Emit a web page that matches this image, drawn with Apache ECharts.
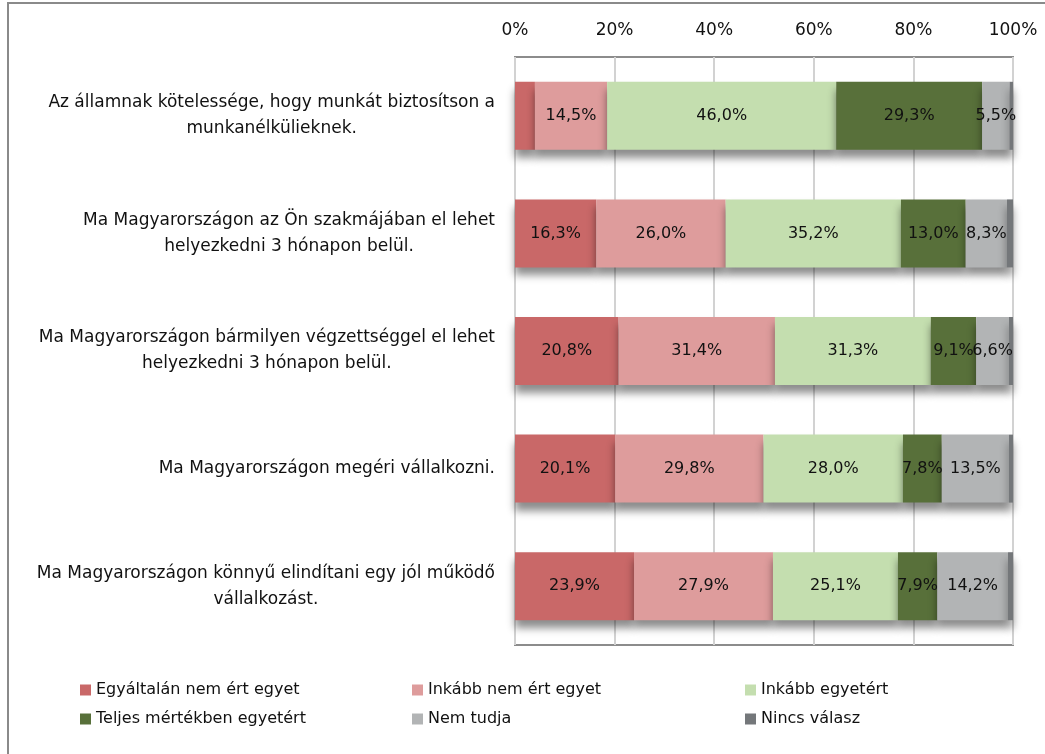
<!DOCTYPE html>
<html>
<head>
<meta charset="utf-8">
<style>
    html, body { margin: 0; padding: 0; background: #fff; }
    #chart { width: 1045px; height: 754px; }
</style>
<script src="https://cdn.jsdelivr.net/npm/echarts@6.0.0/dist/echarts.min.js"></script>
</head>
<body>
<div id="chart"></div>
<script>
// kategóriák (felülről lefelé)
var kerdesek = [
    'Az államnak kötelessége, hogy munkát biztosítson a\nmunkanélkülieknek.',
    'Ma Magyarországon az Ön szakmájában el lehet\nhelyezkedni 3 hónapon belül.',
    'Ma Magyarországon bármilyen végzettséggel el lehet\nhelyezkedni 3 hónapon belül.',
    'Ma Magyarországon megéri vállalkozni.',
    'Ma Magyarországon könnyű elindítani egy jól működő\nvállalkozást.'
];
var xTicks = [0, 20, 40, 60, 80, 100];

var egyaltalanNem = [4.0, 16.3, 20.8, 20.1, 23.9];
var inkabbNem = [14.5, 26.0, 31.4, 29.8, 27.9];
var inkabbIgen = [46.0, 35.2, 31.3, 28.0, 25.1];
var teljesen = [29.3, 13.0, 9.1, 7.8, 7.9];
var nemTudja = [5.5, 8.3, 6.6, 13.5, 14.2];
var nincsValasz = [0.7, 1.2, 0.8, 0.8, 1.0];

var nevek = ['Egyáltalán nem ért egyet', 'Inkább nem ért egyet', 'Inkább egyetért',
    'Teljes mértékben egyetért', 'Nem tudja', 'Nincs válasz'];
var szinek = ['#C96868', '#DE9C9C', '#C4DEAF', '#58703A', '#B2B4B5', '#74777A'];
var adatok = [egyaltalanNem, inkabbNem, inkabbIgen, teljesen, nemTudja, nincsValasz];

var betu = 'DejaVu Sans';

var myChart = echarts.init(document.getElementById('chart'));

var series = adatok.map(function (d, i) {
    return {
        name: nevek[i],
        type: 'bar',
        stack: 'ossz',
        data: d,
        barWidth: 68,
        itemStyle: {
            color: szinek[i],
            shadowColor: 'rgba(0,0,0,0.45)',
            shadowBlur: 8,
            shadowOffsetY: 8
        },
        label: {
            show: i < 5,
            position: 'inside',
            color: '#111',
            fontFamily: betu,
            fontSize: 16,
            formatter: function (p) {
                // a kicsi szeleteknek nincs felirata
                if (p.value < 5) return '';
                return p.value.toFixed(1).replace('.', ',') + '%';
            }
        }
    };
});

function oszlop(x, a, b) {
    return {
        orient: 'vertical',
        left: x,
        top: 682,
        padding: 0,
        itemGap: 13,
        itemWidth: 11,
        itemHeight: 11,
        icon: 'rect',
        textStyle: { fontFamily: betu, fontSize: 16, color: '#111', padding: [0, 0, 0, 0] },
        data: [a, b]
    };
}

var option = {
    backgroundColor: '#fff',
    animation: false,
    graphic: [{
        type: 'rect',
        shape: { x: 8, y: 3, width: 1100, height: 800 },
        style: { fill: 'none', stroke: '#8a8a8a', lineWidth: 2 }
    }],
    grid: {
        left: 515,
        right: 32,
        top: 57,
        bottom: 109,
        show: true,
        borderColor: '#8c8c8c',
        borderWidth: 2
    },
    legend: [
        oszlop(80, nevek[0], nevek[3]),
        oszlop(412, nevek[1], nevek[4]),
        oszlop(745, nevek[2], nevek[5])
    ],
    xAxis: {
        type: 'value',
        position: 'top',
        min: xTicks[0],
        max: xTicks[xTicks.length - 1],
        interval: xTicks[1] - xTicks[0],
        axisLine: { show: false },
        axisTick: { show: false },
        axisLabel: {
            margin: 18,
            fontFamily: betu,
            fontSize: 17,
            color: '#111',
            formatter: '{value}%'
        },
        splitLine: { lineStyle: { color: '#d2d2d2', width: 2 } }
    },
    yAxis: {
        type: 'category',
        inverse: true,
        data: kerdesek,
        axisLine: { show: false },
        axisTick: { show: false },
        axisLabel: {
            margin: 20,
            align: 'right',
            formatter: function (v) {
                return v.split('\n').map(function (s) { return '{k|' + s + '}'; }).join('\n');
            },
            rich: {
                k: { align: 'center', fontFamily: betu, fontSize: 17, color: '#111', lineHeight: 26 }
            }
        }
    },
    series: series
};
myChart.setOption(option);
</script>
</body>
</html>
